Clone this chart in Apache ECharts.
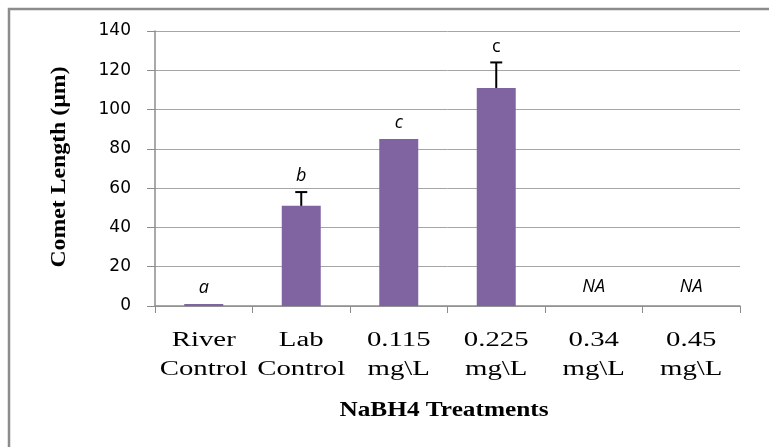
<!DOCTYPE html>
<html><head><meta charset="utf-8">
<script src="https://cdn.jsdelivr.net/npm/echarts@6/dist/echarts.min.js"></script>
<style>html,body{margin:0;padding:0;background:#fff}#c{width:769px;height:447px}</style>
</head><body><div id="c"></div>
<script>
var categories = ['River\nControl', 'Lab\nControl', '0.115\nmg\\L', '0.225\nmg\\L', '0.34\nmg\\L', '0.45\nmg\\L'];
var values = [1, 51, 85, 111, 0, 0];
var errors = [0, 7, 0, 13, 0, 0];
var letters = ['a', 'b', 'c', 'c', 'NA', 'NA'];
var letterItalic = [true, true, true, false, true, true];
var yTicks = [0, 20, 40, 60, 80, 100, 120, 140];
var xTitle = 'NaBH4 Treatments';
var yTitle = 'Comet Length (\u00b5m)';

var chart = echarts.init(document.getElementById('c'));
chart.setOption({
  animation: false,
  graphic: [
    {type: 'rect', shape: {x: 9, y: 9, width: 900, height: 600}, style: {fill: 'none', stroke: '#8c8c8c', lineWidth: 2.5}, silent: true},
    {type: 'text', x: 444, y: 410, scaleX: 1.15, style: {text: xTitle, font: 'bold 22px "Liberation Serif"', fill: '#000', textAlign: 'center', textVerticalAlign: 'middle'}},
    {type: 'text', x: 59, y: 167, rotation: Math.PI / 2, scaleX: 1.08, style: {text: yTitle, font: 'bold 22px "Liberation Serif"', fill: '#000', textAlign: 'center', textVerticalAlign: 'middle'}}
  ],
  grid: {left: 155, right: 29, top: 31, bottom: 141},
  xAxis: {
    type: 'category', data: categories,
    axisLine: {lineStyle: {color: '#8c8c8c', width: 1.5}},
    axisTick: {show: true, length: 7, lineStyle: {color: '#8c8c8c'}},
    axisLabel: {show: false}
  },
  yAxis: {
    type: 'value', min: 0, max: 140, interval: 20,
    axisLine: {show: true, lineStyle: {color: '#8c8c8c', width: 1.5}},
    axisTick: {show: true, length: 8, lineStyle: {color: '#8c8c8c'}},
    splitLine: {lineStyle: {color: '#a6a6a6', width: 1}},
    axisLabel: {color: '#000', fontFamily: 'DejaVu Sans', fontSize: 17, margin: 24,
      formatter: function (v) { return yTicks.indexOf(v) >= 0 ? String(v) : ''; }}
  },
  series: [
    {type: 'bar', data: values, barWidth: 39, itemStyle: {color: '#8064a2'}},
    {type: 'custom', z: 5,
      data: values.map(function (v, i) { return [i, v, errors[i]]; }),
      renderItem: function (params, api) {
        var i = api.value(0), v = api.value(1), e = api.value(2);
        var children = [];
        var base = api.coord([i, v]);
        var topPt = api.coord([i, v + e]);
        var zeroPt = api.coord([i, 0]);
        if (e > 0) {
          children.push({type: 'line', shape: {x1: base[0], y1: base[1], x2: topPt[0], y2: topPt[1]}, style: {stroke: '#000', lineWidth: 2}});
          children.push({type: 'line', shape: {x1: topPt[0] - 6, y1: topPt[1], x2: topPt[0] + 6, y2: topPt[1]}, style: {stroke: '#000', lineWidth: 2}});
        }
        var off = v > 0 ? 16 : 19;
        children.push({type: 'text', style: {text: letters[i], x: topPt[0], y: topPt[1] - off,
          textAlign: 'center', textVerticalAlign: 'middle', fill: '#000',
          font: (letterItalic[i] ? 'italic ' : '') + '18px "Open Sans"'}});
        var lines = categories[i].split('\n');
        lines.forEach(function (ln, k) {
          children.push({type: 'text', x: zeroPt[0], y: zeroPt[1] + 35 + k * 29, scaleX: 1.44,
            style: {text: ln, x: 0, y: 0, textAlign: 'center', textVerticalAlign: 'middle',
              font: '20px "Liberation Serif"', fill: '#000'}});
        });
        return {type: 'group', children: children};
      }
    }
  ]
});
</script></body></html>
